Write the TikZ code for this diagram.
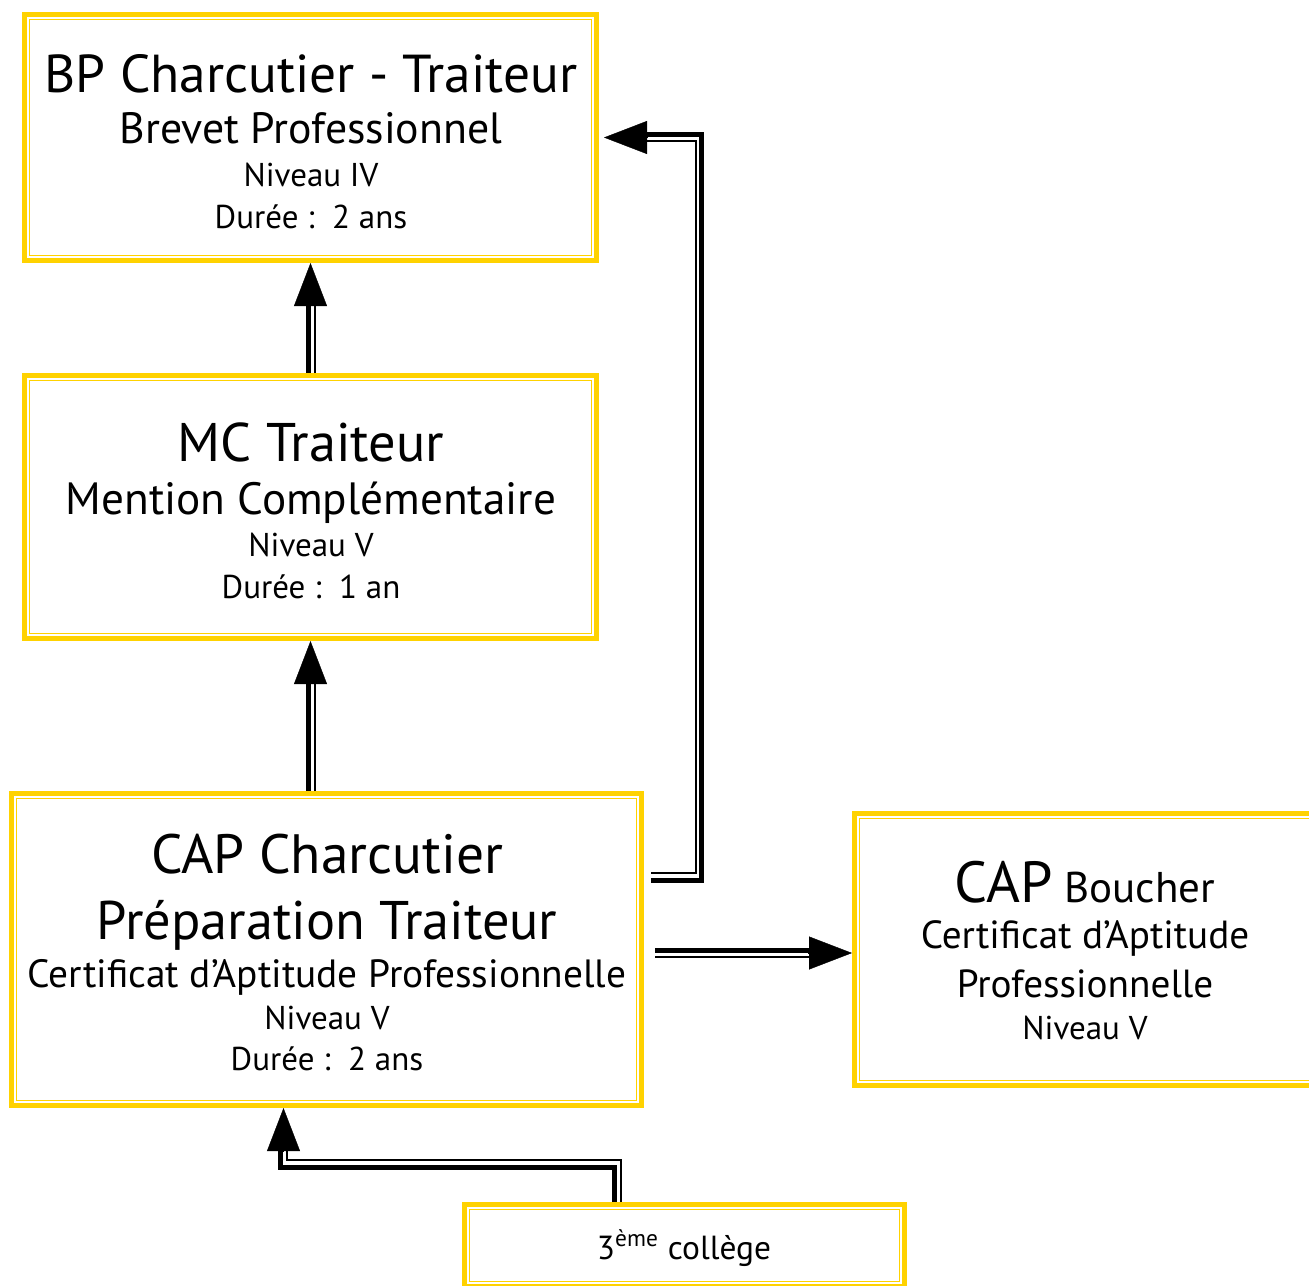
\documentclass[tikz,border=0pt]{standalone}
\usepackage{fontspec}
\setmainfont{PT Sans}
\usepackage{tikz}
\usetikzlibrary{calc,arrows.meta}
\definecolor{cadre}{RGB}{255,210,0}

\tikzset{
  boite/.style={draw=cadre, line width=2.5pt, rectangle},
  filet/.style={draw=cadre, line width=0.75pt},
  epais/.style={line width=2.5pt},
  fin/.style={line width=1pt},
  tete/.style={-{Triangle[length=21.5pt,width=16.5pt]}, line width=0.2pt},
  grand/.style={anchor=base, font=\fontsize{27}{29}\selectfont},
  moyen/.style={anchor=base, font=\fontsize{22}{24}\selectfont},
  petit/.style={anchor=base, font=\fontsize{16.5}{18}\selectfont}
}

\begin{document}
\begin{tikzpicture}[x=0.5pt,y=-0.5pt]
  \useasboundingbox (0,0) rectangle (1309,1285);
  \clip (0,0) rectangle (1309,1285);

  % cadres
  \node[boite, minimum width=286pt, minimum height=123pt] (bp) at (310.5,137.5) {};
  \node[boite, minimum width=286pt, minimum height=131.5pt] (mc) at (310.5,507) {};
  \node[boite, minimum width=315pt, minimum height=156pt] (cap) at (326.5,949.5) {};
  \node[boite, minimum width=236.5pt, minimum height=136pt] (bouch) at (1091,949.5) {};
  \node[boite, minimum width=220pt, minimum height=41pt] (college) at (684.5,1245.5) {};
  \foreach \b in {bp,mc,cap,bouch,college}
    \draw[filet] ($(\b.south west)+(7.5,-7.5)$) rectangle ($(\b.north east)+(-7.5,7.5)$);

  % textes
  \node[grand, font=\fontsize{26.7}{29}\selectfont] (bpA) at (311,92) {BP Charcutier - Traiteur};
  \node[moyen, font=\fontsize{21.9}{24}\selectfont] (bpB) at (311,143) {Brevet Professionnel};
  \node[petit] (bpC) at (311,186) {Niveau IV};
  \node[petit] (bpD) at (311,228) {Durée :\ \ 2 ans};

  \node[grand, font=\fontsize{27.2}{29}\selectfont] (mcA) at (311,461) {MC Traiteur};
  \node[moyen, font=\fontsize{22.6}{24}\selectfont] (mcB) at (311,514) {Mention Complémentaire};
  \node[petit] (mcC) at (311,556) {Niveau V};
  \node[petit] (mcD) at (311,598) {Durée :\ \ 1 an};

  \node[grand, font=\fontsize{27.7}{29}\selectfont] (capA) at (327,873) {CAP Charcutier};
  \node[grand, font=\fontsize{27.2}{29}\selectfont] (capB) at (327,939) {Préparation Traiteur};
  \node[moyen, font=\fontsize{19.7}{21}\selectfont] (capC) at (327,987) {Certificat d’Aptitude Professionnelle};
  \node[petit] (capD) at (327,1029) {Niveau V};
  \node[petit] (capE) at (327,1070) {Durée :\ \ 2 ans};

  \node[moyen, font=\fontsize{21.5}{23}\selectfont] (bouchA) at (1085,902) {{\fontsize{29}{31}\selectfont CAP} Boucher};
  \node[moyen, font=\fontsize{19.6}{21}\selectfont] (bouchB) at (1085,948) {Certificat d’Aptitude};
  \node[moyen, font=\fontsize{19.6}{21}\selectfont] (bouchC) at (1085,997) {Professionnelle};
  \node[petit] (bouchD) at (1085,1039) {Niveau V};

  \node[petit, font=\fontsize{16.7}{18}\selectfont] (collegeA) at (684,1259) {3\textsuperscript{ème} collège};

  % fleches
  \draw[epais] ($(mc.north)+(-2.5,0)$) -- ($(bp.south)+(-2.5,42)$);
  \draw[fin] ($(mc.north)+(4,0)$) -- ($(bp.south)+(4,42)$);
  \draw[tete] ($(bp.south)+(0,44)$) -- (bp.south);

  \draw[epais] ($(mc.south |- cap.north)+(-2.5,0)$) -- ($(mc.south)+(-2.5,42)$);
  \draw[fin] ($(mc.south |- cap.north)+(4,0)$) -- ($(mc.south)+(4,42)$);
  \draw[tete] ($(mc.south)+(0,44)$) -- (mc.south);

  \coordinate (pBP) at ($(bp.east)+(5,0)$);
  \draw[epais] ($(cap.east)+(7,-69.5)$) -| ($(pBP)+(97,-3)$) -- ($(pBP)+(42,-3)$);
  \draw[fin] ($(cap.east)+(7,-76.5)$) -| ($(pBP)+(91.5,3.5)$) -- ($(pBP)+(42,3.5)$);
  \draw[tete] ($(pBP)+(44,0)$) -- (pBP);

  \draw[epais] ($(cap.east)+(11,1)$) -- ($(bouch.west)+(-42,1)$);
  \draw[fin] ($(cap.east)+(11,7.5)$) -- ($(bouch.west)+(-42,7.5)$);
  \draw[tete] ($(bouch.west)+(-44,3.5)$) -- ($(bouch.west)+(0,3.5)$);

  \coordinate (pCAP) at ($(cap.south)+(-43,0)$);
  \draw[epais] ($(college.north)+(-70.5,0)$) |- ($(pCAP)+(-3,59)$) -- ($(pCAP)+(-3,40)$);
  \draw[fin] ($(college.north)+(-63.5,0)$) |- ($(pCAP)+(3.8,51.5)$) -- ($(pCAP)+(3.8,40)$);
  \draw[tete] ($(pCAP)+(0,43)$) -- (pCAP);
\end{tikzpicture}
\end{document}
